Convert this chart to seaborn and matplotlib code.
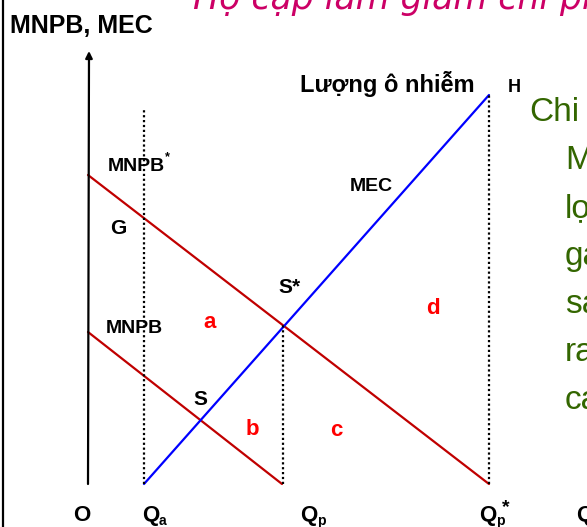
import matplotlib
matplotlib.use("Agg")
import matplotlib.pyplot as plt
import numpy as np
import pandas as pd
import seaborn as sns

# curve end points (Q, value) in chart units
mnpb_star_q = [0, 401]
mnpb_star_v = [309, 0]
mnpb_q = [0, 194]
mnpb_v = [152, 0]
mec_q = [56, 401]
mec_v = [0, 389]

# dotted guide lines at Qa, Qp, Qp*
guide_q = [56, 195, 401]
guide_top = [376, 159, 389]

green_lines = ["Chi", "M", "lợ", "ga", "sa", "ra", "ca"]

DARK_RED = "#c00000"
BLUE = "#0000ff"
RED = "#ff0000"
GREEN = "#336600"
MAGENTA = "#cc0066"

OX, OY = 88, 484  # origin in pixels


def px(x, y):
    return x - OX, OY - y


def main():
    sns.set_theme(style="white")
    plt.rcParams["font.family"] = ["Liberation Sans", "DejaVu Sans"]

    fig = plt.figure(figsize=(5.87, 5.27), dpi=100)
    ax = fig.add_axes([0, 0, 1, 1])
    ax.set_xlim(-OX, 587 - OX)
    ax.set_ylim(OY - 527, OY)
    ax.axis("off")

    curves = pd.concat([
        pd.DataFrame({"q": mnpb_star_q, "v": mnpb_star_v, "curve": "MNPB*"}),
        pd.DataFrame({"q": mnpb_q, "v": mnpb_v, "curve": "MNPB"}),
        pd.DataFrame({"q": mec_q, "v": mec_v, "curve": "MEC"}),
    ], ignore_index=True)
    sns.lineplot(data=curves, x="q", y="v", hue="curve", units="curve", estimator=None,
                 sort=False, palette={"MNPB*": DARK_RED, "MNPB": DARK_RED, "MEC": BLUE},
                 linewidth=1.6, legend=False, ax=ax)

    ax.vlines(guide_q, 0, guide_top, colors="black", linestyles=(0, (1, 1.2)), linewidth=1.6)

    # axes with arrows
    arrow = dict(arrowstyle="-|>", color="black", lw=1.6, mutation_scale=10, shrinkA=0, shrinkB=0)
    ax.annotate("", xy=px(89, 51), xytext=(0, 0), arrowprops=arrow)
    ax.annotate("", xy=px(588, 484), xytext=(0, 0), arrowprops=arrow)
    ax.plot(*zip(px(3, 0), px(3, 527)), color="black", lw=1.6)

    bold = dict(fontweight="bold", color="black", va="baseline", ha="left")

    ax.text(*px(10, 33), "MNPB, MEC", fontsize=18, **bold)
    ax.text(*px(300, 92), "Lượng ô nhiễm", fontsize=17, **bold)
    ax.text(*px(508, 92), "H", fontsize=13, **bold)

    ax.text(*px(108, 171), "MNPB", fontsize=14, **bold)
    ax.text(*px(165, 160), "*", fontsize=9, **bold)
    ax.text(*px(110, 234), "G", fontsize=15, **bold)
    ax.text(*px(350, 191), "MEC", fontsize=14, **bold)
    ax.text(*px(278, 293), "S*", fontsize=15, **bold)
    ax.text(*px(106, 333), "MNPB", fontsize=14, **bold)
    ax.text(*px(193, 405), "S", fontsize=15, **bold)

    for (x, y), s in zip([(203, 328), (246, 435), (330, 436), (426, 314)], "abcd"):
        ax.text(*px(x, y), s, fontsize=16, **dict(bold, color=RED))

    ax.text(*px(73, 521), "O", fontsize=16, **bold)
    for x, sub in [(142, "a"), (300, "p"), (479, "p")]:
        ax.text(*px(x, 521), "Q", fontsize=16, **bold)
        ax.text(*px(x + 17, 525), sub, fontsize=10, **bold)
    ax.text(*px(502, 512), "*", fontsize=14, **bold)
    ax.text(*px(576, 521), "Q", fontsize=16, **bold)

    ax.text(*px(529, 121), green_lines[0], fontsize=24, color=GREEN, va="baseline", ha="left")
    for i, s in enumerate(green_lines[1:]):
        ax.text(*px(565, 169 + 48 * i), s, fontsize=24, color=GREEN, va="baseline", ha="left")

    ax.text(*px(193, 9), "Hộ cặp làm giảm chi phí", fontsize=25, style="italic",
            family=["DejaVu Sans"], color=MAGENTA, va="baseline", ha="left")

    fig.savefig("out.png", dpi=100)


if __name__ == "__main__":
    main()
